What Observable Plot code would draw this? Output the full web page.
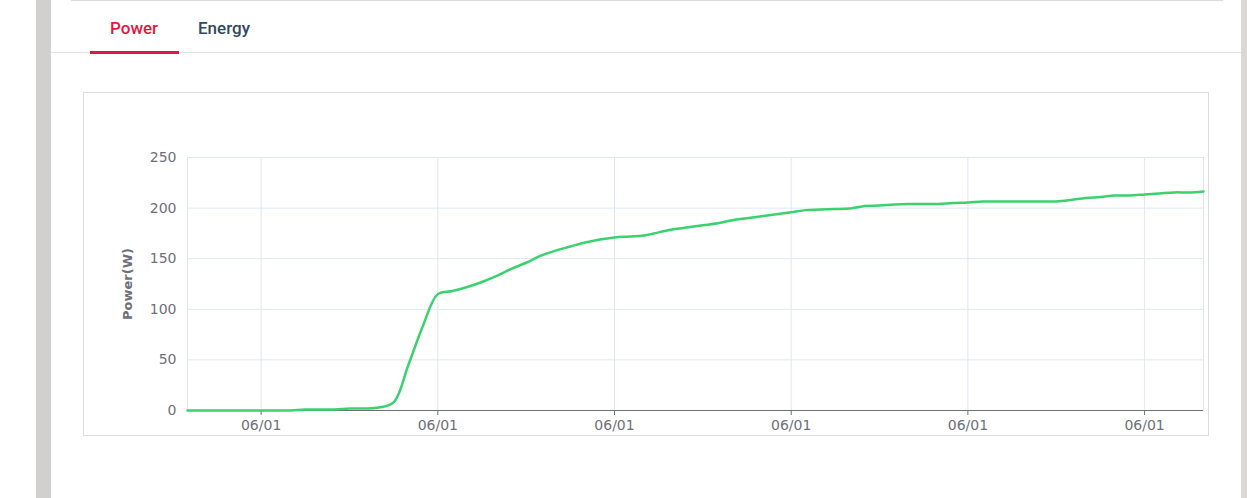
<!DOCTYPE html>
<html><head><meta charset="utf-8">
<script src="https://cdn.jsdelivr.net/npm/d3@7"></script>
<script src="https://cdn.jsdelivr.net/npm/@observablehq/plot@0.6"></script>
<style>
html,body{margin:0;padding:0;background:#fff;width:1247px;height:498px;overflow:hidden;position:relative;font-family:Roboto,"Noto Sans",sans-serif;}
.gray-left{position:absolute;left:36px;top:0;width:15px;height:498px;background:#d1d0ce;}
.gray-right{position:absolute;left:1241px;top:0;width:6px;height:498px;background:#d9d8d6;}
.topbox{position:absolute;left:71px;top:-10px;width:1150px;height:10px;border:1px solid #dcdcdc;border-top:none;}
.topbox .sep{position:absolute;left:101px;top:0;width:1px;height:10px;background:#dcdcdc}
.tabline{position:absolute;left:51px;top:52px;width:1190px;height:1px;background:#e4e4e4}
.tab{position:absolute;top:16px;font-size:17px;font-weight:500;line-height:24px;white-space:nowrap;}
.tab.active{color:#e3173e;left:110px;}
.tab.other{color:#34495e;left:198px;}
.underline{position:absolute;left:90px;top:51px;width:89px;height:3px;background:#e3173e}
.chartbox{position:absolute;left:83px;top:92px;width:1124px;height:342px;border:1px solid #dcdcdc;}
.chartbox svg{display:block}
</style>
</head><body>
<div class="gray-left"></div>
<div class="gray-right"></div>
<div class="topbox"><div class="sep"></div></div>
<div class="tab active">Power</div>
<div class="tab other">Energy</div>
<div class="tabline"></div>
<div class="underline"></div>
<div class="chartbox" id="chart"></div>
<script>
const times = ["09:35","09:40","09:45","09:50","09:55","10:00","10:05","10:10","10:15","10:20",
"10:25","10:30","10:35","10:40","10:45","10:50","10:55","11:00","11:05","11:10",
"11:15","11:20","11:25","11:30","11:35","11:40","11:45","11:50","11:55","12:00",
"12:05","12:10","12:15","12:20","12:25","12:30","12:35","12:40","12:45","12:50",
"12:55","13:00","13:05","13:10","13:15","13:20","13:25","13:30","13:35","13:40",
"13:45","13:50","13:55","14:00","14:05","14:10","14:15","14:20","14:25","14:30",
"14:35","14:40","14:45","14:50","14:55","15:00","15:05","15:10","15:15","15:20"];
const power = [0,0,0,0,0,0,0,0,1,1,
1,2,2,3,8,45,84,115,118,122,
127,133,140,146,153,158,162,166,169,171,
172,173,176,179,181,183,185,188,190,192,
194,196,198,198.5,199,199.5,202,202.5,203.5,204,
204,204,205,205.5,206.5,206.5,206.5,206.5,206.5,206.5,
208,210,211,212.5,212.5,213.5,214.5,215.5,215.5,216.5];
const xTicks = ["10:00","11:00","12:00","13:00","14:00","15:00"];
const yTicks = [0,50,100,150,200,250];
const day = "2023-06-01";
const yLabel = "Power(W)";

const toDate = t => new Date(`${day}T${t}:00Z`);
const data = times.map((t,i)=>({time: toDate(t), value: power[i]}));
const tickDates = xTicks.map(toDate);
const grid = "#e0e6f1";
const axisColor = "#6e7079";

const chart = Plot.plot({
  width: 1124, height: 342,
  marginLeft: 103, marginRight: 5, marginTop: 64, marginBottom: 25,
  style: {fontFamily: "'DejaVu Sans', sans-serif", fontSize: "14px", color: axisColor, background: "transparent"},
  x: {type: "utc", ticks: tickDates, tickFormat: d3.utcFormat("%m/%d")},
  y: {domain: [0, 250], ticks: yTicks},
  marks: [
    Plot.frame({stroke: grid}),
    Plot.gridY(yTicks, {stroke: grid, strokeOpacity: 1}),
    Plot.gridX(tickDates, {stroke: grid, strokeOpacity: 1}),
    Plot.axisY(yTicks, {tickSize: 0, tickPadding: 11, label: null, fill: axisColor}),
    Plot.axisX(tickDates, {tickSize: 5, tickPadding: 5, label: null, tickFormat: d3.utcFormat("%m/%d"), stroke: axisColor, fill: axisColor}),
    Plot.ruleY([0], {stroke: axisColor, strokeWidth: 1}),
    Plot.line(data, {x: "time", y: "value", stroke: "#3ad26f", strokeWidth: 2.5, curve: "catmull-rom"}),
    Plot.text([yLabel], {frameAnchor: "left", textAnchor: "middle", rotate: -90, dx: -60, fontWeight: "bold", fontSize: 13, fill: axisColor})
  ]
});
document.getElementById("chart").appendChild(chart);
</script>
</body></html>
